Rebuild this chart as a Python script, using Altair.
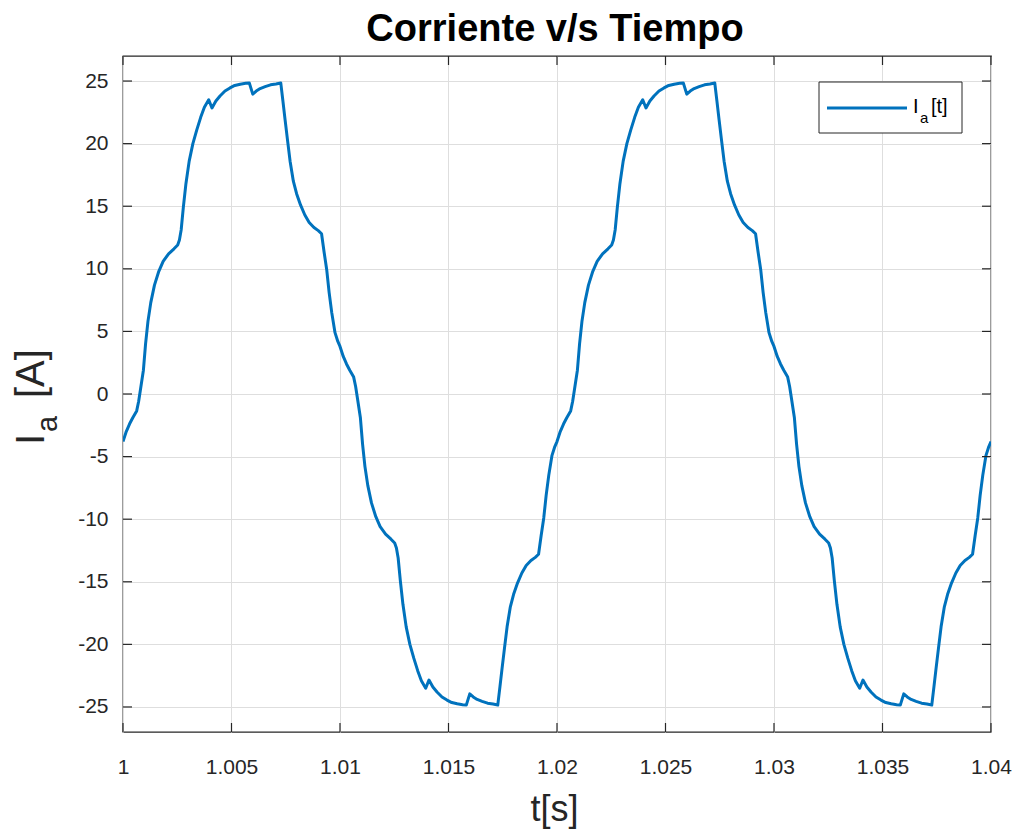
import altair as alt
import pandas as pd

# ---------------- data ----------------
# sample instants inside each half cycle (s, offset from start of half cycle)
tau = [0.00000, 0.00015, 0.00030, 0.00045, 0.00063, 0.00072, 0.00080, 0.00094, 0.00104, 0.00115,
       0.00128, 0.00145, 0.00165, 0.00185, 0.00210, 0.00235, 0.00252, 0.00260, 0.00268, 0.00278,
       0.00290, 0.00305, 0.00322, 0.00340, 0.00358, 0.00375, 0.00395, 0.00410, 0.00428, 0.00447,
       0.00470, 0.00493, 0.00515, 0.00540, 0.00565, 0.00582, 0.00598, 0.00614, 0.00632, 0.00655,
       0.00680, 0.00705, 0.00727, 0.00737, 0.00747, 0.00758, 0.00770, 0.00785, 0.00800, 0.00818,
       0.00838, 0.00858, 0.00880, 0.00900, 0.00915, 0.00927, 0.00939, 0.00950, 0.00962, 0.00977,
       0.00990]
half_starts = [1.00, 1.01, 1.02, 1.03]

ia_half1 = [-3.8, -3.0, -2.4, -1.9, -1.35, -0.6, 0.3, 1.9, 4.0, 5.8,
            7.3, 8.7, 9.8, 10.6, 11.2, 11.6, 11.9, 12.3, 13.1, 14.9,
            16.8, 18.6, 20.0, 21.1, 22.1, 22.9, 23.5, 22.85, 23.4, 23.8,
            24.2, 24.45, 24.65, 24.75, 24.82, 24.85, 23.95, 24.2, 24.4, 24.55,
            24.7, 24.77, 24.85, 23.4, 21.9, 20.3, 18.6, 17.0, 16.0, 15.1,
            14.3, 13.7, 13.3, 13.05, 12.8, 11.3, 9.9, 8.1, 6.5, 4.9,
            4.2]
ia_half2 = [3.8, 3.0, 2.4, 1.9, 1.35, 0.6, -0.3, -1.9, -4.0, -5.8,
            -7.3, -8.7, -9.8, -10.6, -11.2, -11.6, -11.9, -12.3, -13.1, -14.9,
            -16.8, -18.6, -20.0, -21.1, -22.1, -22.9, -23.5, -22.85, -23.4, -23.8,
            -24.2, -24.45, -24.65, -24.75, -24.82, -24.85, -23.95, -24.2, -24.4, -24.55,
            -24.7, -24.77, -24.85, -23.4, -21.9, -20.3, -18.6, -17.0, -16.0, -15.1,
            -14.3, -13.7, -13.3, -13.05, -12.8, -11.3, -9.9, -8.1, -6.5, -4.9,
            -4.2]
ia_half3 = [-3.8, -3.0, -2.4, -1.9, -1.35, -0.6, 0.3, 1.9, 4.0, 5.8,
            7.3, 8.7, 9.8, 10.6, 11.2, 11.6, 11.9, 12.3, 13.1, 14.9,
            16.8, 18.6, 20.0, 21.1, 22.1, 22.9, 23.5, 22.85, 23.4, 23.8,
            24.2, 24.45, 24.65, 24.75, 24.82, 24.85, 23.95, 24.2, 24.4, 24.55,
            24.7, 24.77, 24.85, 23.4, 21.9, 20.3, 18.6, 17.0, 16.0, 15.1,
            14.3, 13.7, 13.3, 13.05, 12.8, 11.3, 9.9, 8.1, 6.5, 4.9,
            4.2]
ia_half4 = [3.8, 3.0, 2.4, 1.9, 1.35, 0.6, -0.3, -1.9, -4.0, -5.8,
            -7.3, -8.7, -9.8, -10.6, -11.2, -11.6, -11.9, -12.3, -13.1, -14.9,
            -16.8, -18.6, -20.0, -21.1, -22.1, -22.9, -23.5, -22.85, -23.4, -23.8,
            -24.2, -24.45, -24.65, -24.75, -24.82, -24.85, -23.95, -24.2, -24.4, -24.55,
            -24.7, -24.77, -24.85, -23.4, -21.9, -20.3, -18.6, -17.0, -16.0, -15.1,
            -14.3, -13.7, -13.3, -13.05, -12.8, -11.3, -9.9, -8.1, -6.5, -4.9,
            -4.2]
t_end = 1.04
ia_end = -3.8

x_ticks = [1.0, 1.005, 1.01, 1.015, 1.02, 1.025, 1.03, 1.035, 1.04]
y_ticks = [-25, -20, -15, -10, -5, 0, 5, 10, 15, 20, 25]
x_domain = [1.0, 1.04]
y_domain = [-27, 27]

title_text = "Corriente v/s Tiempo"
x_title = "t[s]"

# ---------------- build table ----------------
t_vals, ia_vals = [], []
for start, half in zip(half_starts, [ia_half1, ia_half2, ia_half3, ia_half4]):
    t_vals += [round(start + d, 6) for d in tau]
    ia_vals += half
t_vals.append(t_end)
ia_vals.append(ia_end)
df = pd.DataFrame({"t": t_vals, "ia": ia_vals, "order": list(range(len(t_vals)))})

W, H = 868, 676
FONT = "Liberation Sans"
AX = "#262626"
BLUE = "#0072BD"

xs = alt.Scale(domain=x_domain, nice=False, zero=False)
ys = alt.Scale(domain=y_domain, nice=False, zero=False)

x_axis = alt.Axis(values=x_ticks, format=".3~f", grid=True, ticks=False, domain=False,
                  labelPadding=24, labelBaseline="top", labelFlush=False, labelOverlap=False,
                  title=x_title, titleFontSize=36, titleFontWeight="normal",
                  titleColor=AX, titleX=431, titleY=88, titleBaseline="alphabetic",
                  titleAlign="center")
y_axis = alt.Axis(values=y_ticks, labelExpr="'' + datum.value", grid=True, ticks=False,
                  domain=False, labelPadding=15, labelFlush=False, labelOverlap=False,
                  title="")

line = alt.Chart(df).mark_line(color=BLUE, strokeWidth=3, clip=True, strokeJoin="round").encode(
    x=alt.X("t:Q", scale=xs, axis=x_axis),
    y=alt.Y("ia:Q", scale=ys, axis=y_axis),
    order="order:Q",
)

xt = pd.DataFrame({"t": x_ticks})
yt = pd.DataFrame({"ia": y_ticks})
TL = 9
tick_bottom = alt.Chart(xt).mark_rule(color=AX, strokeWidth=1.2).encode(
    x=alt.X("t:Q", scale=xs, axis=x_axis), y=alt.value(H), y2=alt.value(H - TL))
tick_top = alt.Chart(xt).mark_rule(color=AX, strokeWidth=1.2).encode(
    x=alt.X("t:Q", scale=xs, axis=x_axis), y=alt.value(0), y2=alt.value(TL))
tick_left = alt.Chart(yt).mark_rule(color=AX, strokeWidth=1.2).encode(
    y=alt.Y("ia:Q", scale=ys, axis=y_axis), x=alt.value(0), x2=alt.value(TL))
tick_right = alt.Chart(yt).mark_rule(color=AX, strokeWidth=1.2).encode(
    y=alt.Y("ia:Q", scale=ys, axis=y_axis), x=alt.value(W), x2=alt.value(W - TL))

one = pd.DataFrame({"k": [0]})

OX, OY = 123, 56  # plot origin in the page

title = alt.Chart(one).mark_text(text=title_text, font=FONT, fontSize=38, fontWeight="bold",
                                 color="#000000", align="center", baseline="alphabetic").encode(
    x=alt.value(432), y=alt.value(41 - OY))

# y-axis title  I_a[A]  (rotated)
yt_I = alt.Chart(one).mark_text(text="I", font=FONT, fontSize=40, color=AX, angle=270,
                                align="left", baseline="alphabetic").encode(
    x=alt.value(44 - OX), y=alt.value(445 - OY))
yt_a = alt.Chart(one).mark_text(text="a", font=FONT, fontSize=29, color=AX, angle=270,
                                align="left", baseline="alphabetic").encode(
    x=alt.value(57 - OX), y=alt.value(432 - OY))
yt_A = alt.Chart(one).mark_text(text="[A]", font=FONT, fontSize=40, color=AX, angle=270,
                                align="left", baseline="alphabetic").encode(
    x=alt.value(44 - OX), y=alt.value(398 - OY))

# legend
leg_box = alt.Chart(one).mark_rect(fill="white", stroke=AX, strokeWidth=1).encode(
    x=alt.value(696), x2=alt.value(839), y=alt.value(26), y2=alt.value(77))
leg_line = alt.Chart(one).mark_rule(color=BLUE, strokeWidth=3).encode(
    x=alt.value(704), x2=alt.value(784), y=alt.value(52))
leg_I = alt.Chart(one).mark_text(text="I", font=FONT, fontSize=20, color="#000000",
                                 align="left", baseline="alphabetic").encode(
    x=alt.value(790), y=alt.value(57))
leg_a = alt.Chart(one).mark_text(text="a", font=FONT, fontSize=15, color="#000000",
                                 align="left", baseline="alphabetic").encode(
    x=alt.value(797), y=alt.value(67))
leg_t = alt.Chart(one).mark_text(text="[t]", font=FONT, fontSize=20, color="#000000",
                                 align="left", baseline="alphabetic").encode(
    x=alt.value(808), y=alt.value(57))

chart = alt.layer(
    line, tick_bottom, tick_top, tick_left, tick_right,
    leg_box, leg_line, leg_I, leg_a, leg_t,
    title, yt_I, yt_a, yt_A,
).properties(
    width=W, height=H,
    padding={"left": OX, "top": OY, "right": 27, "bottom": 99},
    autosize=alt.AutoSizeParams(type="none"),
    background="white",
).configure_view(
    stroke=AX, strokeWidth=1.3,
).configure_axis(
    labelFont=FONT, titleFont=FONT, labelFontSize=21, labelColor=AX,
    gridColor="#dedede", gridWidth=1, gridOpacity=1,
)

chart.save("out.html", embed_options={"renderer": "svg", "actions": False})
